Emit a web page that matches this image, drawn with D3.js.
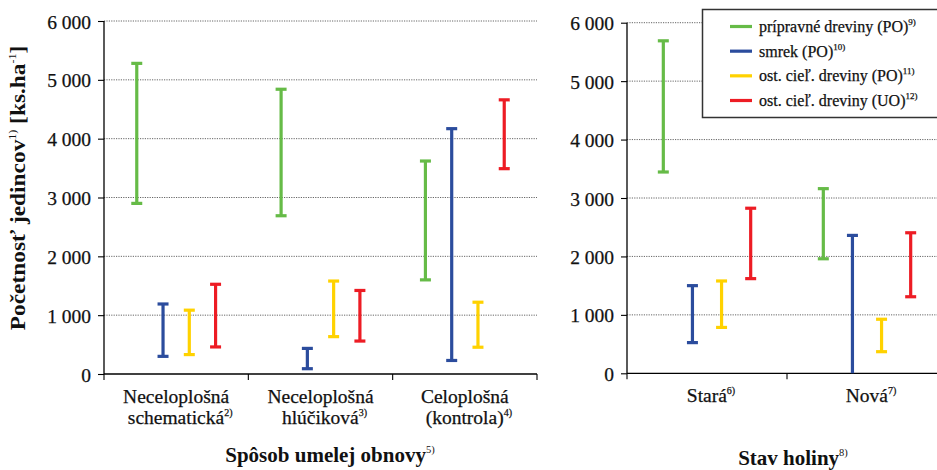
<!DOCTYPE html>
<html><head><meta charset="utf-8">
<script src="https://cdn.jsdelivr.net/npm/d3@7"></script>
<style>
html,body{margin:0;padding:0;background:#fff;}
svg{display:block;}
svg text{font-family:"Liberation Serif" !important;}
</style></head>
<body>
<svg id="c" width="937" height="470"></svg>
<script>
const series = ["prípravné dreviny (PO)", "smrek (PO)", "ost. cieľ. dreviny (PO)", "ost. cieľ. dreviny (UO)"];
const seriesSup = ["9)", "10)", "11)", "12)"];
const seriesColors = ["#66bb47", "#2b4c9d", "#ffd200", "#ed1c24"];

const leftCats = ["Neceloplošná schematická", "Neceloplošná hlúčiková", "Celoplošná (kontrola)"];
const leftCatLines = [["Neceloplošná", "schematická"], ["Neceloplošná", "hlúčiková"], ["Celoplošná", "(kontrola)"]];
const leftCatSup = ["2)", "3)", "4)"];
// per category, per series
const leftLow  = [[2900, 300, 330, 460], [2690, 90, 635, 560], [1600, 230, 455, 3490]];
const leftHigh = [[5280, 1190, 1085, 1525], [4840, 435, 1580, 1420], [3620, 4170, 1220, 4660]];

const rightCats = ["Stará", "Nová"];
const rightCatSup = ["6)", "7)"];
const rightLow  = [[3445, 525, 785, 1620], [1960, 0, 370, 1310]];
const rightHigh = [[5690, 1500, 1580, 2825], [3160, 2360, 925, 2405]];

const yTicks = [0, 1000, 2000, 3000, 4000, 5000, 6000];
const yTitle = ["Početnosť jedincov", "1)", " [ks.ha", "-1", "]"];
const leftTitle = ["Spôsob umelej obnovy", "5)"];
const rightTitle = ["Stav holiny", "8)"];

const FONT = '"Liberation Serif"';
const INK = "#111";
const svg = d3.select("#c").attr("font-family", FONT);
const loc = d3.formatLocale({decimal: ",", thousands: " ", grouping: [3], currency: ["", ""]});
const fmt = loc.format(",d");

function supText(sel, parts, supSize, rise) {
  parts.forEach((p, i) => {
    if (i % 2 === 0) {
      const t = sel.append("tspan").text(p);
      if (i > 0) t.attr("dy", rise);
    } else {
      sel.append("tspan").attr("font-size", supSize).attr("dy", -rise).style("font-weight", "normal").text(p);
    }
  });
}

// text placed via transform with optional horizontal stretch and rotation
function label(parent, x, y, parts, o) {
  const g = parent.append("g")
    .attr("transform", `translate(${x},${y}) rotate(${o.rot || 0}) scale(${o.sx || 1},1)`);
  const t = g.append("text").attr("text-anchor", o.anchor || "middle")
    .attr("font-size", o.size).attr("fill", INK);
  if (o.bold) t.style("font-weight", "bold");
  else t.attr("stroke", INK).attr("stroke-width", 0.25);
  supText(t, parts, o.sup || 11, o.rise || 8);
  return t;
}

function panel(opts) {
  const {x0, x1, yb, yt, cats, low, high, labelFn} = opts;
  const g = svg.append("g");
  const x = d3.scaleBand().domain(cats).range([x0, x1]).paddingInner(0).paddingOuter(0);
  const bw = x.bandwidth();
  const xs = d3.scalePoint().domain(series).range([bw * 0.227, bw * 0.773]);
  const y = d3.scaleLinear().domain([0, 6000]).range([yb, yt]);

  // grid
  g.append("g").selectAll("line").data(yTicks.filter(d => d > 0)).join("line")
    .attr("x1", x0).attr("x2", x1).attr("y1", d => y(d)).attr("y2", d => y(d))
    .attr("stroke", "#666").attr("stroke-width", 1).attr("stroke-dasharray", "1.2,1.2");

  // y axis
  const ya = g.append("g").attr("transform", `translate(${x0},0)`)
    .call(d3.axisLeft(y).tickValues(yTicks).tickFormat(fmt).tickSize(6).tickPadding(7));
  ya.attr("font-family", FONT);
  ya.select(".domain").attr("stroke", "#000").attr("stroke-width", 1.3).attr("d", `M0,${yb}V${yt}`);
  ya.selectAll(".tick line").attr("stroke", "#000").attr("stroke-width", 1.1);
  ya.selectAll(".tick text").attr("font-size", 19.5).attr("fill", INK)
    .attr("stroke", INK).attr("stroke-width", 0.25).attr("dy", "0.36em");

  // x axis
  const xa = g.append("g").attr("transform", `translate(0,${yb})`)
    .call(d3.axisBottom(x).tickSize(0).tickFormat(""));
  xa.select(".domain").attr("stroke", "#000").attr("stroke-width", 1.3).attr("d", `M${x0},0H${x1}`);
  const bounds = [x0].concat(cats.map(c => x(c) + bw));
  xa.selectAll(".bt").data(bounds).join("line").attr("class", "bt")
    .attr("x1", d => d).attr("x2", d => d).attr("y1", 0).attr("y2", 6)
    .attr("stroke", "#000").attr("stroke-width", 1.1);

  // category labels
  cats.forEach((c, i) => labelFn(g, c, i, x(c) + bw / 2));

  // error bars
  const rows = [];
  cats.forEach((c, ci) => series.forEach((s, si) => rows.push({c, s, si, lo: low[ci][si], hi: high[ci][si]})));
  const eb = g.append("g").selectAll("g").data(rows).join("g")
    .attr("transform", d => `translate(${x(d.c) + xs(d.s)},0)`)
    .attr("stroke", d => seriesColors[d.si]).attr("stroke-width", 3.2);
  eb.append("line").attr("y1", d => y(d.lo)).attr("y2", d => y(d.hi));
  eb.append("line").attr("x1", -5.5).attr("x2", 5.5).attr("y1", d => y(d.hi)).attr("y2", d => y(d.hi));
  eb.filter(d => d.lo > 0).append("line").attr("x1", -5.5).attr("x2", 5.5).attr("y1", d => y(d.lo)).attr("y2", d => y(d.lo));
  return {x, y};
}

panel({x0: 104, x1: 537, yb: 374, yt: 21, cats: leftCats, low: leftLow, high: leftHigh,
  labelFn: (g, c, i, cx) => {
    label(g, cx, 403, [leftCatLines[i][0]], {size: 19.5});
    label(g, cx + 4, 424, [leftCatLines[i][1], leftCatSup[i]], {size: 19.5, sup: 10, rise: 8});
  }});

panel({x0: 627, x1: 947, yb: 373.3, yt: 22.7, cats: rightCats, low: rightLow, high: rightHigh,
  labelFn: (g, c, i, cx) => {
    label(g, cx + 4, 402, [c, rightCatSup[i]], {size: 19.5, sup: 10, rise: 8});
  }});

// axis titles
label(svg, 25, 188, yTitle, {size: 20.5, bold: true, rot: -90, sx: 1.14, sup: 10.5, rise: 9});
label(svg, 330, 462, leftTitle, {size: 21, bold: true, sup: 10.5, rise: 9});
label(svg, 793, 465, rightTitle, {size: 21, bold: true, sup: 10.5, rise: 9});

// legend
const lg = svg.append("g");
lg.append("rect").attr("x", 702.5).attr("y", 9.5).attr("width", 240).attr("height", 108)
  .attr("fill", "#fff").attr("stroke", "#333").attr("stroke-width", 1.5);
const ly = d3.scalePoint().domain(series).range([26.5, 100.5]);
const li = lg.selectAll("g").data(series).join("g").attr("transform", d => `translate(0,${ly(d)})`);
li.append("line").attr("x1", 730).attr("x2", 752).attr("stroke", (d, i) => seriesColors[i]).attr("stroke-width", 3.2);
li.each(function(d, i) {
  label(d3.select(this), 759, 5.5, [d, seriesSup[i]], {size: 16, anchor: "start", sup: 9, rise: 7});
});

svg.selectAll("text").style("font-family", FONT);
</script>
</body></html>
